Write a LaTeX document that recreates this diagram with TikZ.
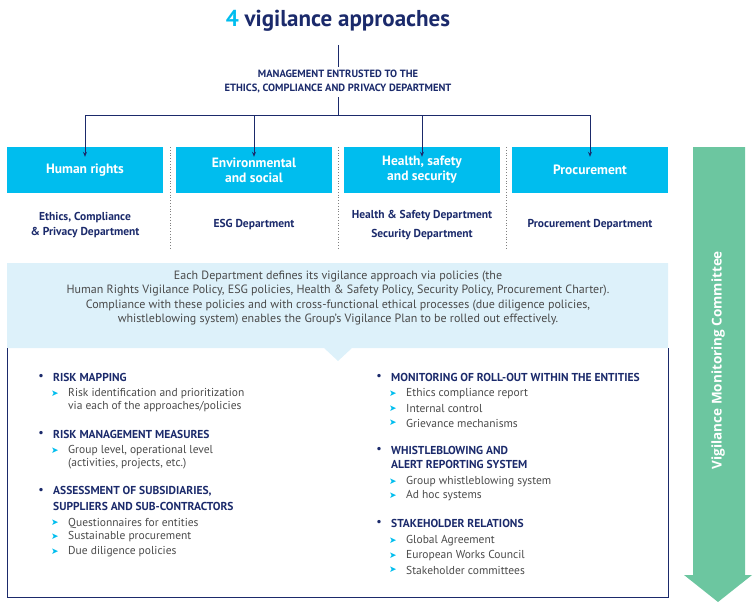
\documentclass[tikz,border=0pt]{standalone}
\usepackage{fontspec}
\setmainfont{PT Sans}
\newfontfamily\sansopen{Open Sans}
\newfontfamily\symfont{DejaVu Sans}
\usetikzlibrary{arrows.meta}
\definecolor{navy}{HTML}{1B2A6B}
\definecolor{cyanbox}{HTML}{00BDEE}
\definecolor{paleblue}{HTML}{DDF1FA}
\definecolor{greenarrow}{HTML}{6CC6A0}
\definecolor{textgrey}{HTML}{4A4A4A}
\tikzset{
  approach/.style={fill=cyanbox,text=white,font=\bfseries\fontsize{13.5}{15}\selectfont,
    minimum width=156pt,minimum height=46pt,align=center,inner sep=0pt},
  dept/.style={text=navy,font=\bfseries\fontsize{11.5}{15}\selectfont,align=center},
  heading/.style={anchor=west,text=navy,font=\bfseries\fontsize{11.5}{14}\selectfont,align=left,inner sep=0pt},
  item/.style={anchor=west,text=textgrey,font=\fontsize{11.5}{13}\selectfont,align=left,inner sep=0pt},
  dot/.style={anchor=center,text=navy,font=\bfseries\fontsize{11}{13}\selectfont,inner sep=0pt},
  tick/.style={anchor=center,text=cyanbox,font=\symfont\fontsize{9}{12}\selectfont,inner sep=0pt},
  link/.style={navy,line width=0.8pt},
  sep/.style={gray,dotted,line width=0.8pt}
}
\newcommand{\headat}[3]{\node[dot] at (#1-12,#2) {•}; \node[heading] at (#1,#2) {#3};}
\newcommand{\itemat}[3]{\node[tick] at (#1,#2) {➤}; \node[item] at (#1+13,#2) {#3};}
\begin{document}
\begin{tikzpicture}[x=1pt,y=-1pt]
\useasboundingbox (0,0) rectangle (754,602);
% title and management
\node (title) at (338,21) {\bfseries\fontsize{23}{26}\selectfont\textcolor{cyanbox}{4} \textcolor{navy}{vigilance approaches}};
\node[dept,font=\bfseries\fontsize{10.5}{14}\selectfont] (mgmt) at (338,82) {MANAGEMENT ENTRUSTED TO THE\\ETHICS, COMPLIANCE AND PRIVACY DEPARTMENT};
\coordinate (top) at (338,45);
\coordinate (split) at (338,115);
\draw[link] (top) -- (mgmt.north);
\draw[link] (mgmt.south) -- (split);
% approaches
\node[approach] (hr) at (85,170) {Human rights};
\node[approach] (env) at (254,170) {Environmental\\and social};
\node[approach] (hss) at (422,170) {Health, safety\\and security};
\node[approach] (proc) at (590,170) {Procurement};
\draw[link] (hr.north |- split) -- (proc.north |- split);
\foreach \n in {hr,env,hss,proc}
  \draw[link,-{Stealth[length=5pt,width=4pt]}] (\n.north |- split) -- ([yshift=-10pt]\n.north);
\foreach \x in {170,338,506}
  \draw[sep] (\x,147) -- (\x,250);
\node[dept] (hrd) at (85,225) {Ethics, Compliance\\\& Privacy Department};
\node[dept] (envd) at (254,225) {ESG Department};
\node[dept,font=\bfseries\fontsize{11.5}{19}\selectfont] (hssd) at (422,225) {Health \& Safety Department\\Security Department};
\node[dept] (procd) at (590,225) {Procurement Department};
% policies
\fill[paleblue] (7,263) rectangle (668,348) (324,348) -- (338,361) -- (352,348) -- cycle;
\node[text=textgrey,font=\fontsize{12}{14.5}\selectfont,align=center] (policy) at (338,298) {Each Department defines its vigilance approach via policies (the\\Human Rights Vigilance Policy, ESG policies, Health \& Safety Policy, Security Policy, Procurement Charter).\\Compliance with these policies and with cross-functional ethical processes (due diligence policies,\\whistleblowing system) enables the Group's Vigilance Plan to be rolled out effectively.};
\draw[navy,line width=0.6pt] (7,348) -- (7,597) -- (668,597) -- (668,348);
% left column
\headat{53}{377}{RISK MAPPING}
\itemat{55}{394}{Risk identification and prioritization}
\node[item] at (68,407) {via each of the approaches/policies};
\headat{53}{434}{RISK MANAGEMENT MEASURES}
\itemat{55}{451}{Group level, operational level}
\node[item] at (68,464) {(activities, projects, etc.)};
\headat{53}{491}{ASSESSMENT OF SUBSIDIARIES,}
\node[heading] at (53,506) {SUPPLIERS AND SUB-CONTRACTORS};
\itemat{55}{523}{Questionnaires for entities}
\itemat{55}{537}{Sustainable procurement}
\itemat{55}{552}{Due diligence policies}
% right column
\headat{391}{377}{MONITORING OF ROLL-OUT WITHIN THE ENTITIES}
\itemat{393}{394}{Ethics compliance report}
\itemat{393}{409}{Internal control}
\itemat{393}{423}{Grievance mechanisms}
\headat{391}{450}{WHISTLEBLOWING AND}
\node[heading] at (391,464) {ALERT REPORTING SYSTEM};
\itemat{393}{482}{Group whistleblowing system}
\itemat{393}{496}{Ad hoc systems}
\headat{391}{523}{STAKEHOLDER RELATIONS}
\itemat{393}{541}{Global Agreement}
\itemat{393}{556}{European Works Council}
\itemat{393}{570}{Stakeholder committees}
% committee arrow
\fill[greenarrow] (693,147) -- (745,147) -- (745,575) -- (752,575) -- (718,602) -- (684,575) -- (693,575) -- cycle;
\node[rotate=90,text=white,font=\sansopen\bfseries\fontsize{13.5}{15}\selectfont] (committee) at (718,360) {Vigilance Monitoring Committee};
\end{tikzpicture}
\end{document}
